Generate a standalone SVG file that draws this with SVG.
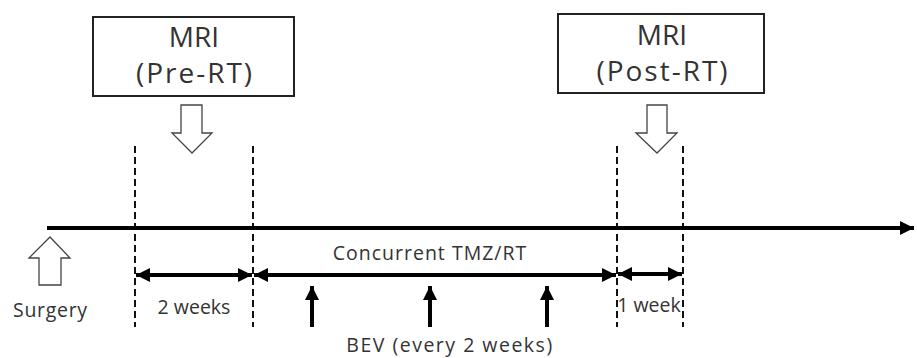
<svg xmlns="http://www.w3.org/2000/svg" width="917" height="358" viewBox="0 0 917 358">
<defs>
<style>
text{font-family:"Open Sans","Noto Sans",sans-serif;fill:#333;}
.big{font-size:28px;text-anchor:middle;}
.sub{letter-spacing:2px;}
.lab{font-size:19.5px;}
.box{fill:#fff;stroke:#222;stroke-width:2;}
.hollow{fill:#fff;stroke:#444;stroke-width:1.3;}
.dash{stroke:#111;stroke-width:2;stroke-dasharray:7,4;fill:none;}
.thick{stroke:#000;stroke-width:4;fill:none;}
</style>
<marker id="ah" viewBox="0 0 10 10" refX="10" refY="5" markerWidth="3.6" markerHeight="3.6" markerUnits="strokeWidth" orient="auto-start-reverse">
<path d="M0,0 L10,5 L0,10 z" fill="#000"/>
</marker>
</defs>
<g id="mri-pre">
<rect class="box" x="93" y="17" width="201" height="79"/>
<text class="big" x="194" y="47">MRI</text>
<text class="big sub" x="195" y="83">(Pre-RT)</text>
</g>
<g id="mri-post">
<rect class="box" x="558" y="14" width="206" height="79"/>
<text class="big" x="662" y="45">MRI</text>
<text class="big sub" x="663" y="81">(Post-RT)</text>
</g>
<g id="surgery">
<text class="lab" x="13" y="317" letter-spacing="0.7">Surgery</text>
</g>
<g id="labels">
<text class="lab" x="194" y="314" text-anchor="middle" font-size="17">2 weeks</text>
<text class="lab" x="430" y="260" text-anchor="middle" letter-spacing="1">Concurrent TMZ/RT</text>
<text class="lab" x="649" y="312" text-anchor="middle" font-size="17">1 week</text>
<text class="lab" x="450" y="352" text-anchor="middle" letter-spacing="1.5">BEV (every 2 weeks)</text>
</g>
<g id="connectors">
<path class="hollow" d="M181,105 H202 V133 H212 L192,153 L172,133 H181 Z"/>
<path class="hollow" d="M647,105 H667 V133 H677 L657,153 L636,133 H647 Z"/>
<path class="hollow" d="M39,285 V258 H29 L50,237 L70,258 H61 V285 Z"/>
<line class="dash" x1="135" y1="146" x2="135" y2="327"/>
<line class="dash" x1="253" y1="146" x2="253" y2="327"/>
<line class="dash" x1="617" y1="146" x2="617" y2="327"/>
<line class="dash" x1="683" y1="146" x2="683" y2="327"/>
<line class="thick" x1="47" y1="228" x2="914" y2="228" marker-end="url(#ah)"/>
<line class="thick" x1="136" y1="275" x2="252" y2="275" marker-start="url(#ah)" marker-end="url(#ah)"/>
<line class="thick" x1="254" y1="275" x2="616" y2="275" marker-start="url(#ah)" marker-end="url(#ah)"/>
<line class="thick" x1="618" y1="274" x2="682" y2="274" marker-start="url(#ah)" marker-end="url(#ah)"/>
<line class="thick" x1="312" y1="327" x2="312" y2="286" marker-end="url(#ah)"/>
<line class="thick" x1="430" y1="327" x2="430" y2="286" marker-end="url(#ah)"/>
<line class="thick" x1="547" y1="327" x2="547" y2="286" marker-end="url(#ah)"/>
</g>
</svg>
